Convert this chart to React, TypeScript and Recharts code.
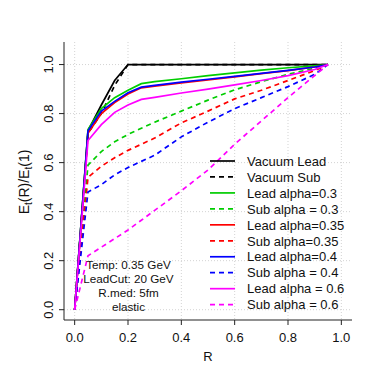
import React from "react";
import {
  LineChart,
  Line,
  XAxis,
  YAxis,
  CartesianGrid,
  Legend,
} from "recharts";

const R_VALUES = [0, 0.05, 0.1, 0.15, 0.2, 0.25, 0.3, 0.4, 0.5, 0.6, 0.7, 0.8, 0.9, 0.95];

const VAC_LEAD = [0, 0.73, 0.835, 0.935, 1, 1, 1, 1, 1, 1, 1, 1, 1, 1];
const VAC_SUB = [0, 0.72, 0.8, 0.915, 1, 1, 1, 1, 1, 1, 1, 1, 1, 1];
const LEAD_03 = [0, 0.735, 0.82, 0.865, 0.895, 0.922, 0.93, 0.942, 0.955, 0.966, 0.977, 0.987, 0.995, 1];
const SUB_03 = [0, 0.59, 0.645, 0.685, 0.715, 0.74, 0.765, 0.81, 0.855, 0.897, 0.93, 0.96, 0.985, 1];
const LEAD_035 = [0, 0.72, 0.8, 0.845, 0.88, 0.905, 0.912, 0.925, 0.937, 0.95, 0.963, 0.975, 0.99, 1];
const SUB_035 = [0, 0.54, 0.585, 0.62, 0.65, 0.675, 0.7, 0.762, 0.81, 0.86, 0.895, 0.935, 0.975, 1];
const LEAD_04 = [0, 0.73, 0.81, 0.85, 0.885, 0.908, 0.915, 0.928, 0.94, 0.952, 0.964, 0.976, 0.99, 1];
const SUB_04 = [0, 0.48, 0.51, 0.55, 0.58, 0.605, 0.63, 0.705, 0.765, 0.82, 0.865, 0.91, 0.96, 1];
const LEAD_06 = [0, 0.69, 0.755, 0.805, 0.835, 0.858, 0.866, 0.884, 0.9, 0.917, 0.935, 0.955, 0.98, 1];
const SUB_06 = [0, 0.22, 0.255, 0.29, 0.325, 0.365, 0.405, 0.485, 0.57, 0.675, 0.77, 0.865, 0.955, 1];

const TICKS = [0, 0.2, 0.4, 0.6, 0.8, 1.0];
const TICK_LABELS = ["0.0", "0.2", "0.4", "0.6", "0.8", "1.0"];

const NOTES = ["Temp: 0.35 GeV", "LeadCut: 20 GeV", "R.med: 5fm", "elastic"];

const SERIES = [
  { key: "vacLead", values: VAC_LEAD, label: "Vacuum Lead", color: "#000000", dashed: false },
  { key: "vacSub", values: VAC_SUB, label: "Vacuum Sub", color: "#000000", dashed: true },
  { key: "lead03", values: LEAD_03, label: "Lead alpha=0.3", color: "#00CD00", dashed: false },
  { key: "sub03", values: SUB_03, label: "Sub alpha = 0.3", color: "#00CD00", dashed: true },
  { key: "lead035", values: LEAD_035, label: "Lead alpha=0.35", color: "#FF0000", dashed: false },
  { key: "sub035", values: SUB_035, label: "Sub alpha=0.35", color: "#FF0000", dashed: true },
  { key: "lead04", values: LEAD_04, label: "Lead alpha=0.4", color: "#0000FF", dashed: false },
  { key: "sub04", values: SUB_04, label: "Sub alpha = 0.4", color: "#0000FF", dashed: true },
  { key: "lead06", values: LEAD_06, label: "Lead alpha = 0.6", color: "#FF00FF", dashed: false },
  { key: "sub06", values: SUB_06, label: "Sub alpha = 0.6", color: "#FF00FF", dashed: true },
];

const DATA = R_VALUES.map((r, i) => {
  const row: Record<string, number> = { r };
  SERIES.forEach((s) => {
    row[s.key] = s.values[i];
  });
  return row;
});

const FONT = "'Liberation Sans', Arial, Helvetica, sans-serif";
const X_DOMAIN = [-0.04, 1.04];
const Y_DOMAIN = [-0.042, 1.092];
const AXIS_COLOR = "#222";
const DASH = "5 4";
const LINE_W = 1.7;

const tickLabel = (v: number) => TICK_LABELS[TICKS.findIndex((t) => Math.abs(t - v) < 1e-6)] ?? String(v);

const XTick = (props: any) => {
  const { x, payload } = props;
  return (
    <text x={x} y={341.5} textAnchor="middle" fontSize={13} fontFamily={FONT} fill="#111">
      {tickLabel(payload.value)}
    </text>
  );
};

const YTick = (props: any) => {
  const { y, payload } = props;
  return (
    <text
      x={53}
      y={y}
      textAnchor="middle"
      fontSize={13}
      fontFamily={FONT}
      fill="#111"
      transform={`rotate(-90, 53, ${y})`}
    >
      {tickLabel(payload.value)}
    </text>
  );
};

const XTitle = () => (
  <text x={208} y={361} textAnchor="middle" fontSize={13} fontFamily={FONT} fill="#111">
    R
  </text>
);

const YTitle = () => (
  <text
    x={29}
    y={182}
    textAnchor="middle"
    fontSize={14}
    fontFamily={FONT}
    fill="#111"
    transform="rotate(-90, 29, 182)"
  >
    <tspan>E</tspan>
    <tspan fontSize={10} dy={3}>t</tspan>
    <tspan dy={-3}>(R)/E</tspan>
    <tspan fontSize={10} dy={3}>t</tspan>
    <tspan dy={-3}>(1)</tspan>
  </text>
);

const renderLegend = () => (
  <svg width={180} height={170} style={{ display: "block" }}>
    {SERIES.map((s, i) => {
      const y = 8 + i * 15.96;
      return (
        <g key={s.key}>
          <line
            x1={10}
            x2={35}
            y1={y}
            y2={y}
            stroke={s.color}
            strokeWidth={LINE_W}
            strokeDasharray={s.dashed ? DASH : undefined}
          />
          <text x={47} y={y + 4.7} fontSize={13} fontFamily={FONT} fill="#111">
            {s.label}
          </text>
        </g>
      );
    })}
  </svg>
);

export default function App() {
  return (
    <div style={{ position: "absolute", left: 0, top: 0, width: 374, height: 374, background: "#fff" }}>
      <LineChart
        width={374}
        height={374}
        data={DATA}
        margin={{ top: 42, right: 22, bottom: 0, left: 0 }}
      >
        <CartesianGrid
          stroke="#d3d3d3"
          strokeDasharray="1 2"
          horizontalValues={TICKS}
          verticalValues={TICKS}
        />
        <XAxis
          dataKey="r"
          type="number"
          domain={X_DOMAIN}
          ticks={TICKS}
          height={54}
          allowDataOverflow
          stroke={AXIS_COLOR}
          tickSize={5}
          tick={<XTick />}
          label={<XTitle />}
        />
        <XAxis
          xAxisId="top"
          orientation="top"
          type="number"
          dataKey="r"
          domain={X_DOMAIN}
          ticks={TICKS}
          height={0}
          allowDataOverflow
          stroke={AXIS_COLOR}
          tickSize={5}
          tick={false}
        />
        <YAxis
          type="number"
          domain={Y_DOMAIN}
          ticks={TICKS}
          width={64}
          allowDataOverflow
          stroke={AXIS_COLOR}
          tickSize={5}
          tick={<YTick />}
          label={<YTitle />}
        />
        <YAxis
          yAxisId="right"
          orientation="right"
          type="number"
          domain={Y_DOMAIN}
          ticks={TICKS}
          width={0}
          allowDataOverflow
          stroke={AXIS_COLOR}
          tickSize={5}
          tick={false}
        />
        <Legend
          content={renderLegend}
          layout="vertical"
          align="center"
          verticalAlign="middle"
          wrapperStyle={{ left: 200, top: 152.7, width: 180, height: 170, margin: 0 }}
        />
        {SERIES.map((s) => (
          <Line
            key={s.key}
            type="linear"
            dataKey={s.key}
            stroke={s.color}
            strokeWidth={LINE_W}
            strokeDasharray={s.dashed ? DASH : undefined}
            dot={false}
            activeDot={false}
            isAnimationActive={false}
            legendType="none"
          />
        ))}
      </LineChart>
      <svg
        width={374}
        height={374}
        style={{ position: "absolute", left: 0, top: 0, pointerEvents: "none" }}
      >
        {NOTES.map((n, i) => (
          <text
            key={n}
            x={128.5}
            y={269.2 + i * 14}
            textAnchor="middle"
            fontSize={11.7}
            fontFamily={FONT}
            fill="#111"
          >
            {n}
          </text>
        ))}
      </svg>
    </div>
  );
}
